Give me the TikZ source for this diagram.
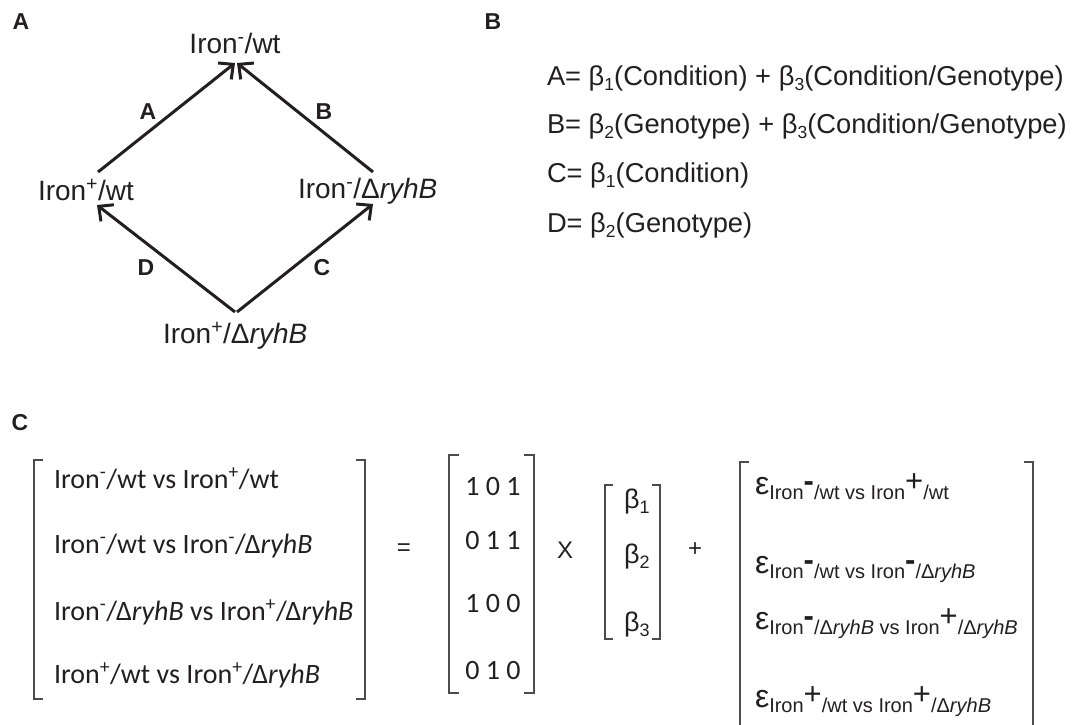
\documentclass[tikz,border=0pt]{standalone}
\usepackage{fontspec}
\setmainfont{Liberation Sans}
\newfontfamily\calfont{Carlito}
\usetikzlibrary{arrows.meta}

\definecolor{ink}{HTML}{231F20}

% lowered index used in the contrast equations
\newcommand\idx[1]{\raisebox{-5pt}{\fontsize{17.5}{18}\selectfont #1}}
\newcommand\bidx[1]{\raisebox{-5pt}{\fontsize{18}{19}\selectfont #1}}
% pieces of the error-term subscripts
\newcommand\ironsub{\raisebox{-5pt}{\fontsize{20}{21}\selectfont Iron}}
\newcommand\bigsign[1]{\raisebox{3pt}{\fontsize{31}{32}\selectfont #1}}
\newcommand\smallsub[1]{\raisebox{-5pt}{\fontsize{20}{21}\selectfont #1}}
\newcommand\rb{\textit{ryhB}}

\begin{document}
\begin{tikzpicture}[x=1pt,y=-1pt,
  every node/.style={inner sep=0pt, outer sep=0pt, text=ink},
  panel/.style={font=\fontsize{23}{25}\selectfont\bfseries},
  state/.style={font=\fontsize{28}{32}\selectfont, anchor=base west},
  edgelabel/.style={font=\fontsize{23}{25}\selectfont\bfseries},
  flow/.style={draw=ink, line width=3pt, -{Straight Barb[length=11pt,width=21pt]}},
  eqn/.style={font=\fontsize{27.3}{30}\selectfont, anchor=base west},
  rowtxt/.style={font=\calfont\fontsize{28}{32}\selectfont, anchor=base west},
  digits/.style={font=\calfont\fontsize{28}{30}\selectfont},
  op/.style={font=\fontsize{24}{26}\selectfont},
  beta/.style={font=\fontsize{27}{30}\selectfont, anchor=base west},
  errterm/.style={font=\fontsize{32}{34}\selectfont, anchor=base west},
  brk/.style={draw=black!70, line width=1.3pt}
]
\useasboundingbox (0,0) rectangle (1073,724);

% ---------------- panel A: the four conditions ----------------
\node[panel] (pA) at (21,22) {A};

\node[state, anchor=base] (top)   at (235,53)  {Iron\textsuperscript{-}/wt};
\node[state] (left)  at (38,200)  {Iron\textsuperscript{+}/wt};
\node[state] (right) at (298,198) {Iron\textsuperscript{-}/Δ\rb};
\node[state] (bot)   at (163,343) {Iron\textsuperscript{+}/Δ\rb};

\coordinate (aFrom) at (98,172);
\coordinate (aTo)   at (235,63);
\coordinate (bFrom) at (373,172);
\coordinate (bTo)   at (237,63);
\coordinate (dFrom) at (235,312);
\coordinate (dTo)   at (97,205);
\coordinate (cFrom) at (237,312);
\coordinate (cTo)   at (373,204);

\draw[flow] (aFrom) -- (aTo);
\draw[flow] (bFrom) -- (bTo);
\draw[flow] (dFrom) -- (dTo);
\draw[flow] (cFrom) -- (cTo);

\node[edgelabel] (lA) at (148,112) {A};
\node[edgelabel] (lB) at (324,112) {B};
\node[edgelabel] (lD) at (146,268) {D};
\node[edgelabel] (lC) at (322,268) {C};

% ---------------- panel B: contrasts ----------------
\node[panel] (pB) at (493,22) {B};

\node[eqn] (eqA) at (547,85)  {A= β\idx{1}(Condition) + β\idx{3}(Condition/Genotype)};
\node[eqn] (eqB) at (547,133) {B= β\idx{2}(Genotype) + β\idx{3}(Condition/Genotype)};
\node[eqn] (eqC) at (547,182) {C= β\idx{1}(Condition)};
\node[eqn] (eqD) at (547,232) {D= β\idx{2}(Genotype)};

% ---------------- panel C: linear model ----------------
\node[panel] (pC) at (20,423) {C};

% comparison vector
\draw[brk] (43,460) -- (34,460) -- (34,699) -- (43,699);
\draw[brk] (356,460) -- (365,460) -- (365,699) -- (356,699);
\node[rowtxt] (r1) at (54,488) {Iron\textsuperscript{-}/wt vs Iron\textsuperscript{+}/wt};
\node[rowtxt] (r2) at (54,553) {Iron\textsuperscript{-}/wt vs Iron\textsuperscript{-}/Δ\rb};
\node[rowtxt] (r3) at (54,620) {Iron\textsuperscript{-}/Δ\rb{} vs Iron\textsuperscript{+}/Δ\rb};
\node[rowtxt] (r4) at (54,683) {Iron\textsuperscript{+}/wt vs Iron\textsuperscript{+}/Δ\rb};

\node[op] (eq) at (404,550) {=};

% design matrix
\draw[brk] (459,455) -- (449,455) -- (449,693) -- (459,693);
\draw[brk] (524,455) -- (534,455) -- (534,693) -- (524,693);
\node[digits] (m1) at (493,486) {1 0 1};
\node[digits] (m2) at (493,540) {0 1 1};
\node[digits] (m3) at (493,603) {1 0 0};
\node[digits] (m4) at (493,670) {0 1 0};

\node[op] (times) at (565,550) {X};

% coefficient vector
\draw[brk] (613,485) -- (605,485) -- (605,639) -- (613,639);
\draw[brk] (652,485) -- (660,485) -- (660,639) -- (652,639);
\node[beta] (b1) at (624,508) {β\bidx{1}};
\node[beta] (b2) at (624,563) {β\bidx{2}};
\node[beta] (b3) at (624,631) {β\bidx{3}};

\node[op] (plus) at (695,550) {+};

% error vector
\draw[brk] (749,462) -- (740,462) -- (740,730);
\draw[brk] (1024,462) -- (1033,462) -- (1033,730);
\node[errterm] (e1) at (755,494) {ε\ironsub\bigsign{\textbf{-}}\smallsub{/wt vs }\ironsub\bigsign{+}\smallsub{/wt}};
\node[errterm] (e2) at (755,573) {ε\ironsub\bigsign{\textbf{-}}\smallsub{/wt vs }\ironsub\bigsign{\textbf{-}}\smallsub{/Δ\rb}};
\node[errterm] (e3) at (755,629) {ε\ironsub\bigsign{\textbf{-}}\smallsub{/Δ\rb{} vs }\ironsub\bigsign{+}\smallsub{/Δ\rb}};
\node[errterm] (e4) at (755,707) {ε\ironsub\bigsign{+}\smallsub{/wt vs }\ironsub\bigsign{+}\smallsub{/Δ\rb}};
\end{tikzpicture}
\end{document}
